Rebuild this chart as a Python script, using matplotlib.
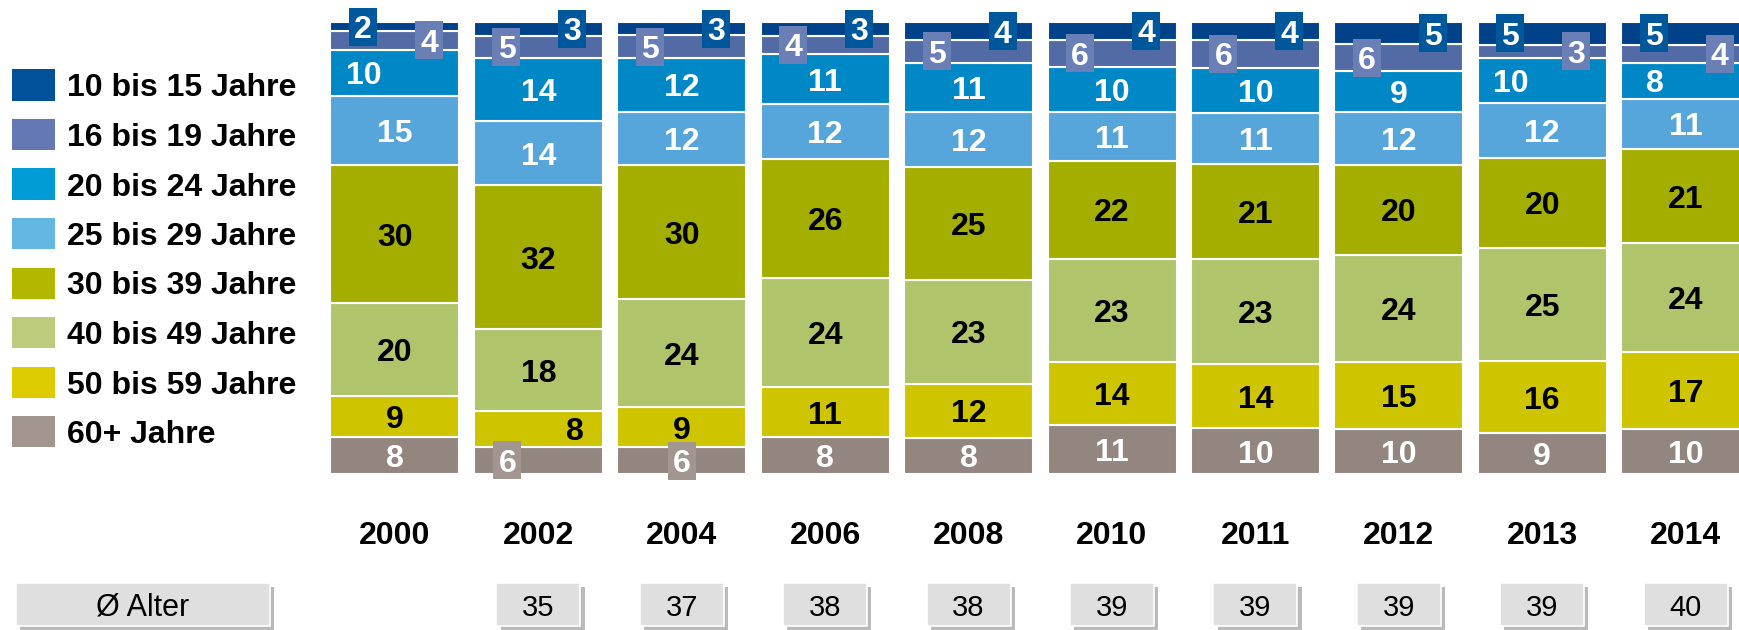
import matplotlib
matplotlib.use("Agg")
import matplotlib.pyplot as plt
import matplotlib.patheffects as pe
from matplotlib.patches import Rectangle
from matplotlib.transforms import blended_transform_factory
import numpy as np

plt.rcParams['font.family'] = ['Liberation Sans', 'DejaVu Sans']

# ---- data -------------------------------------------------------------
years = ['2000', '2002', '2004', '2006', '2008', '2010', '2011', '2012', '2013', '2014']
group_labels = ['10 bis 15 Jahre', '16 bis 19 Jahre', '20 bis 24 Jahre', '25 bis 29 Jahre',
                '30 bis 39 Jahre', '40 bis 49 Jahre', '50 bis 59 Jahre', '60+ Jahre']
g10_15 = [2, 3, 3, 3, 4, 4, 4, 5, 5, 5]
g16_19 = [4, 5, 5, 4, 5, 6, 6, 6, 3, 4]
g20_24 = [10, 14, 12, 11, 11, 10, 10, 9, 10, 8]
g25_29 = [15, 14, 12, 12, 12, 11, 11, 12, 12, 11]
g30_39 = [30, 32, 30, 26, 25, 22, 21, 20, 20, 21]
g40_49 = [20, 18, 24, 24, 23, 23, 23, 24, 25, 24]
g50_59 = [9, 8, 9, 11, 12, 14, 14, 15, 16, 17]
g60_plus = [8, 6, 6, 8, 8, 11, 10, 10, 9, 10]
avg_age = [None, 35, 37, 38, 38, 39, 39, 39, 39, 40]
avg_label = 'Ø Alter'

# ---- styling ----------------------------------------------------------
seg_colors = ['#00428a', '#536ba5', '#0087c6', '#56a6dc',
              '#a3ae00', '#afc46b', '#cfc400', '#93857f']
legend_colors = ['#00509a', '#6479b3', '#009bd4', '#64b6e3',
                 '#b2b800', '#bdcb7c', '#dccb00', '#a39590']
text_colors = ['white', 'white', 'white', 'white', 'black', 'black', 'black', 'white']
box_colors = {0: '#00589c', 1: '#6a7fb6', 7: '#a39590'}

W, H = 1740, 630
X0_PX, STEP_PX = 395.0, 143.4          # centre of first column, column pitch
BAR_TOP_PX, BAR_BOT_PX = 22.0, 474.0   # pixel rows of 100 % and 0 %
BAR_W = 129 / STEP_PX
FS = 23

def px(v):
    return v / STEP_PX

def ypx(v):
    return v / (BAR_BOT_PX - BAR_TOP_PX) * 100

fig = plt.figure(figsize=(W / 100, H / 100), dpi=100)
ax = fig.add_axes([0, (H - BAR_BOT_PX) / H, 1, (BAR_BOT_PX - BAR_TOP_PX) / H])
ax.set_xlim(-X0_PX / STEP_PX, (W - X0_PX) / STEP_PX)
ax.set_ylim(0, 100)
ax.set_axis_off()

series = [g10_15, g16_19, g20_24, g25_29, g30_39, g40_49, g50_59, g60_plus]
vals = np.array(series, dtype=float)          # rows = age groups, top first
shares = vals / vals.sum(axis=0) * 100         # 100 % stacked columns
x = np.arange(len(years))

# stack from the bottom (60+) to the top (10-15)
bottoms = np.zeros(len(years))
seg_bottom = np.zeros_like(shares)
for g in range(len(series) - 1, -1, -1):
    ax.bar(x, shares[g], BAR_W, bottom=bottoms, color=seg_colors[g],
           edgecolor='white', linewidth=1.5, zorder=2)
    seg_bottom[g] = bottoms
    bottoms = bottoms + shares[g]

# columns where the 10-15 box sits on the left (otherwise on the right)
youngest_left = {'2000', '2013', '2014'}
LEFT, RIGHT = px(-32), px(34)
BOX_W, BOX_H = px(28), ypx(38)

def boxed_label(xc, yc, text, color):
    ax.add_patch(Rectangle((xc - BOX_W / 2, yc - BOX_H / 2), BOX_W, BOX_H,
                           facecolor=color, edgecolor='none', zorder=4, clip_on=False))
    ax.text(xc, yc, text, ha='center', va='center_baseline', color='white',
            fontsize=FS, fontweight='bold', zorder=5, clip_on=False)

for i, yr in enumerate(years):
    for g in range(len(series)):
        v = int(vals[g, i])
        yc = seg_bottom[g, i] + shares[g, i] / 2
        xc = x[i]
        if g in (0, 1):
            first_left = yr in youngest_left
            side = LEFT if (g == 0) == first_left else RIGHT
            boxed_label(xc + side, yc, str(v), box_colors[g])
            continue
        if g == 7 and v <= 6:
            dx = px(-31) if yr == '2002' else 0
            boxed_label(xc + dx, yc, str(v), box_colors[7])
            continue
        dx = 0
        if g == 2 and yr in youngest_left:
            dx = px(-31)
        if g == 6 and v <= 8:
            dx = px(37)
        ax.text(xc + dx, yc, str(v), ha='center', va='center_baseline',
                color=text_colors[g], fontsize=FS, fontweight='bold', zorder=3)

# year labels below the columns
for i, yr in enumerate(years):
    ax.text(x[i], 1 - (532 - BAR_TOP_PX) / (BAR_BOT_PX - BAR_TOP_PX), yr,
            transform=blended_transform_factory(ax.transData, ax.transAxes),
            ha='center', va='center_baseline', fontsize=23, fontweight='bold',
            clip_on=False)

# average age row
shadow = [pe.SimplePatchShadow(offset=(3, -3), shadow_rgbFace='#8c8c8c', alpha=0.6), pe.Normal()]
bt = blended_transform_factory(ax.transData, fig.transFigure)
row_y0 = (H - 626) / H
row_h = 43 / H
for i, a in enumerate(avg_age):
    if a is None:
        continue
    ax.add_patch(Rectangle((x[i] - px(42), row_y0), px(84), row_h, transform=bt,
                           facecolor='#dfdfdf', edgecolor='white', linewidth=1.2,
                           clip_on=False, zorder=2, path_effects=shadow))
    ax.text(x[i], row_y0 + row_h / 2, str(a), transform=bt, ha='center',
            va='center_baseline', fontsize=21, clip_on=False, zorder=3)

fig.add_artist(Rectangle((16 / W, row_y0), 254 / W, row_h, transform=fig.transFigure,
                         facecolor='#dfdfdf', edgecolor='white', linewidth=1.2,
                         path_effects=shadow))
fig.text(143 / W, row_y0 + row_h / 2, avg_label, ha='center', va='center_baseline',
         fontsize=22)

# legend
for g, lab in enumerate(group_labels):
    yc = 85 + 49.5 * g
    fig.add_artist(Rectangle((12 / W, (H - yc - 15.5) / H), 43 / W, 31 / H,
                             transform=fig.transFigure, facecolor=legend_colors[g],
                             edgecolor='none'))
    fig.text(67 / W, (H - yc) / H, lab, ha='left', va='center_baseline',
             fontsize=23, fontweight='bold')

fig.savefig('out.png', dpi=100)
